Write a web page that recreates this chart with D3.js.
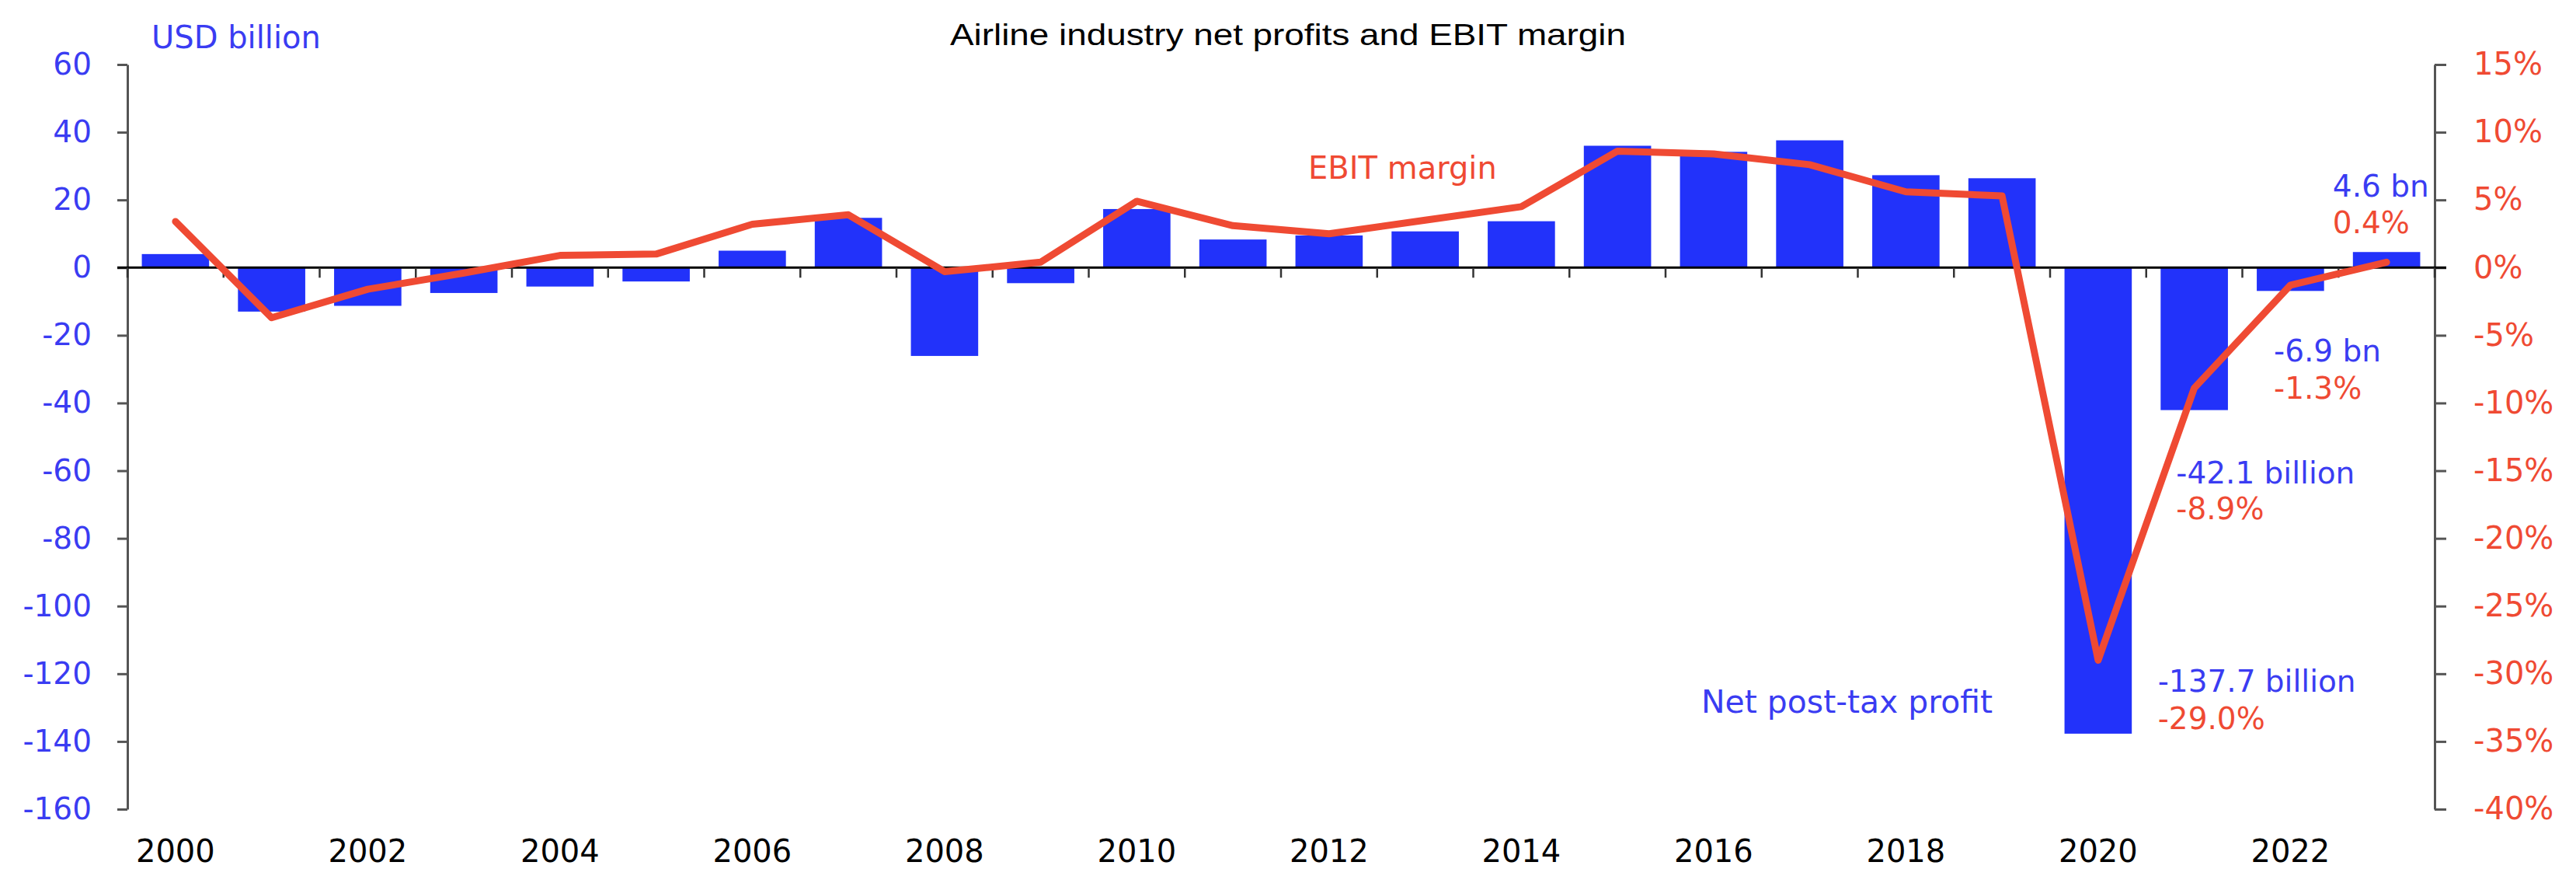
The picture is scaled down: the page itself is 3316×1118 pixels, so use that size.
<!DOCTYPE html>
<html>
<head>
<meta charset="utf-8">
<script src="https://cdn.jsdelivr.net/npm/d3@7"></script>
<style>
  body { margin: 0; background: #fff; }
  text { font-family: "DejaVu Sans", Verdana, sans-serif; }
</style>
</head>
<body>
<script>
// data
const years = d3.range(2000, 2024).map(String)
const net_profit = [4.0, -13.0, -11.3, -7.5, -5.6, -4.1, 5.0, 14.7, -26.1, -4.6, 17.3, 8.3, 9.5, 10.7,
    13.7, 36.0, 34.2, 37.6, 27.3, 26.4, -137.7, -42.1, -6.9, 4.6]
const ebit_margin = [3.4, -3.7, -1.6, -0.4, 0.9, 1.0, 3.2, 3.9, -0.3, 0.4, 4.9, 3.1, 2.5, 3.5,
    4.5, 8.6, 8.4, 7.6, 5.6, 5.3, -29.0, -8.9, -1.3, 0.4]
const left_ticks = d3.range(-160, 61, 20)
const right_ticks = d3.range(-40, 16, 5)
const year_labels = years.filter(d => +d % 2 === 0)

const W = 3316, H = 1118
const blue = '#2232fa', blue_txt = '#3a3cf2', red = '#ef4a33'

let margin = {left: 164, right: 3134, top: 83, bottom: 1041}

let svg = d3.select('body').append('svg')
    .attr('width', W)
    .attr('height', H)

let x = d3.scaleBand().domain(years).range([margin.left, margin.right])
    .paddingInner(0.3).paddingOuter(0.15)
let y = d3.scaleLinear().domain([-160, 60]).range([margin.bottom, margin.top])
let y2 = d3.scaleLinear().domain([-40, 15]).range([margin.bottom, margin.top])
let step = x.step()

// bars
svg.append('g')
    .selectAll('rect')
    .data(years)
    .enter().append('rect')
    .attr('x', d => x(d))
    .attr('width', x.bandwidth())
    .attr('y', (d, i) => y(Math.max(0, net_profit[i])))
    .attr('height', (d, i) => Math.abs(y(net_profit[i]) - y(0)))
    .attr('fill', blue)

// left axis
let ax_left = svg.append('g')
    .attr('transform', `translate(${margin.left},0)`)
    .call(d3.axisLeft(y).tickValues(left_ticks).tickSize(13).tickSizeOuter(0).tickPadding(33)
        .tickFormat(d => String(d)))
ax_left.select('.domain').attr('stroke', '#555').attr('stroke-width', 3)
ax_left.selectAll('.tick line').attr('stroke', '#555').attr('stroke-width', 3)
ax_left.selectAll('.tick text').attr('fill', blue_txt)
    .style('font-size', '39px').style('font-family', '"DejaVu Sans", sans-serif')

// right axis
let ax_right = svg.append('g')
    .attr('transform', `translate(${margin.right},0)`)
    .call(d3.axisRight(y2).tickValues(right_ticks).tickSize(15).tickSizeOuter(0).tickPadding(35)
        .tickFormat(d => String(d) + '%'))
ax_right.select('.domain').attr('stroke', '#555').attr('stroke-width', 3)
ax_right.selectAll('.tick line').attr('stroke', '#555').attr('stroke-width', 3)
ax_right.selectAll('.tick text').attr('fill', red)
    .style('font-size', '40px').style('font-family', '"DejaVu Sans", sans-serif')

// zero line + category ticks
svg.append('line')
    .attr('x1', margin.left - 13).attr('x2', margin.right + 15)
    .attr('y1', y(0)).attr('y2', y(0))
    .attr('stroke', '#000').attr('stroke-width', 3)

svg.append('g')
    .selectAll('line')
    .data(years.concat(['end']))
    .enter().append('line')
    .attr('x1', (d, i) => margin.left + i * step)
    .attr('x2', (d, i) => margin.left + i * step)
    .attr('y1', y(0))
    .attr('y2', y(0) + 13)
    .attr('stroke', '#333').attr('stroke-width', 2.5)

// year labels
svg.append('g')
    .selectAll('text')
    .data(year_labels)
    .enter().append('text')
    .attr('x', d => x(d) + x.bandwidth() / 2)
    .attr('y', 1109)
    .attr('text-anchor', 'middle')
    .style('font-size', '40px')
    .attr('fill', '#000')
    .text(d => d)

// EBIT line
let line = d3.line()
    .x((d, i) => x(years[i]) + x.bandwidth() / 2)
    .y(d => y2(d))

svg.append('path')
    .datum(ebit_margin)
    .attr('d', line)
    .attr('fill', 'none')
    .attr('stroke', red)
    .attr('stroke-width', 9)
    .attr('stroke-linejoin', 'round')
    .attr('stroke-linecap', 'round')

// titles
svg.append('text')
    .attr('x', 1223).attr('y', 58)
    .attr('textLength', 870).attr('lengthAdjust', 'spacingAndGlyphs')
    .style('font-size', '38px')
    .style('font-family', '"Liberation Sans", Arial, sans-serif')
    .attr('fill', '#000')
    .text('Airline industry net profits and EBIT margin')

svg.append('text')
    .attr('x', 195).attr('y', 62)
    .style('font-size', '40px')
    .attr('fill', blue_txt)
    .text('USD billion')

svg.append('text')
    .attr('x', 1684).attr('y', 230)
    .style('font-size', '40px')
    .attr('fill', red)
    .text('EBIT margin')

svg.append('text')
    .attr('x', 2190).attr('y', 917)
    .attr('textLength', 375).attr('lengthAdjust', 'spacingAndGlyphs')
    .style('font-size', '40px')
    .attr('fill', blue_txt)
    .text('Net post-tax profit')

// value annotations
function note(x0, y0, t, c) {
    svg.append('text')
        .attr('x', x0).attr('y', y0)
        .style('font-size', '39px')
        .attr('fill', c)
        .text(t)
}
let x20 = x('2020') - step * 0.15
note(x20 + step + 15, 890, '-137.7 billion', blue_txt)
note(x20 + step + 15, 938, '-29.0%', red)
note(x('2021') + 20, 622, '-42.1 billion', blue_txt)
note(x('2021') + 20, 668, '-8.9%', red)
note(x('2022') + 22, 465, '-6.9 bn', blue_txt)
note(x('2022') + 22, 513, '-1.3%', red)
note(x('2023') - 26, 253, '4.6 bn', blue_txt)
note(x('2023') - 26, 300, '0.4%', red)
</script>
</body>
</html>
